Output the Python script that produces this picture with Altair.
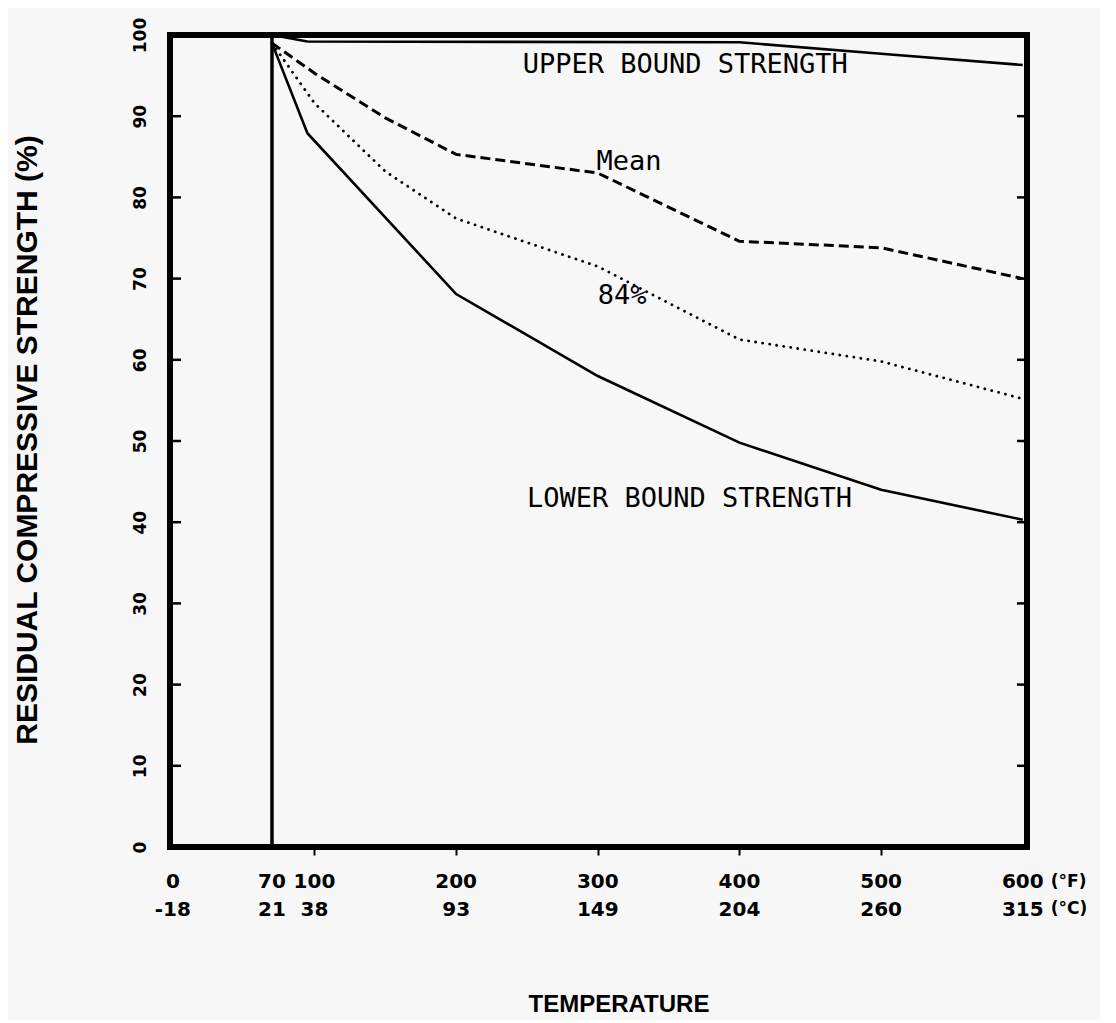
import altair as alt
import pandas as pd

# ---- data ----
upper_t = [70, 95, 400, 500, 600]
upper_v = [100, 99.2, 99.1, 97.7, 96.3]

mean_t = [70, 100, 150, 200, 300, 400, 500, 600]
mean_v = [99, 95.3, 89.8, 85.3, 83.0, 74.6, 73.8, 70.0]

p84_t = [70, 100, 150, 200, 300, 400, 500, 600]
p84_v = [99, 91.6, 83.2, 77.4, 71.5, 62.5, 59.8, 55.2]

lower_t = [70, 95, 200, 300, 400, 500, 600]
lower_v = [99, 87.9, 68.1, 58.0, 49.8, 44.0, 40.3]

room_temp_f = [70]

x_ticks_f = [0, 70, 100, 200, 300, 400, 500, 600]
x_labels_f = ["0", "70", "100", "200", "300", "400", "500", "600"]
x_labels_c = ["-18", "21", "38", "93", "149", "204", "260", "315"]
unit_labels = ["(°F)", "(°C)"]
y_ticks = [0, 10, 20, 30, 40, 50, 60, 70, 80, 90, 100]
inner_ticks = [10, 20, 30, 40, 50, 60, 70, 80, 90]
bottom_ticks = [100, 200, 300, 400, 500]

ann_text = ["UPPER BOUND STRENGTH", "Mean", "84%", "LOWER BOUND STRENGTH"]
ann_x = [247, 299, 300, 250]
ann_y = [96.3, 84.4, 67.9, 42.9]

W, H = 857, 812
xs = alt.Scale(domain=[-2, 603], nice=False, zero=False)
ys = alt.Scale(domain=[0, 100], nice=False, zero=False)

LABEL_FONT = "DejaVu Sans"
PLOT_FONT = "DejaVu Sans Mono"

XAX = alt.Axis(values=bottom_ticks, labels=False, domain=False, grid=False,
               tickSize=8, tickWidth=2, tickColor="black", title=None)
YAX = alt.Axis(values=y_ticks, ticks=False, tickSize=0, domain=False, grid=False,
               labelAngle=270, labelAlign="center", labelBaseline="middle",
               labelPadding=30, labelFont=LABEL_FONT, labelFontWeight="bold",
               labelFontSize=17, labelColor="black", title=None)

def X(f):
    return alt.X(f, scale=xs, axis=XAX)

def Y(f):
    return alt.Y(f, scale=ys, axis=YAX)

def series(t, v):
    return pd.DataFrame({"t": t, "v": v})

upper_line = alt.Chart(series(upper_t, upper_v)).mark_line(
    color="black", strokeWidth=2.6).encode(x=X("t:Q"), y=Y("v:Q"))
lower_line = alt.Chart(series(lower_t, lower_v)).mark_line(
    color="black", strokeWidth=2.6).encode(x=X("t:Q"), y=Y("v:Q"))
mean_line = alt.Chart(series(mean_t, mean_v)).mark_line(
    color="black", strokeWidth=3, strokeDash=[10, 5]).encode(x=X("t:Q"), y=Y("v:Q"))
p84_line = alt.Chart(series(p84_t, p84_v)).mark_line(
    color="black", strokeWidth=2.8, strokeDash=[0.1, 7], strokeCap="round"
).encode(x=X("t:Q"), y=Y("v:Q"))

vline = alt.Chart(pd.DataFrame({"t": room_temp_f, "y0": [0], "y1": [100]})).mark_rule(
    color="black", strokeWidth=3.5).encode(x=X("t:Q"), y=Y("y0:Q"), y2="y1:Q")

tick_df = pd.DataFrame({"v": inner_ticks})
left_ticks = alt.Chart(tick_df).mark_rule(color="black", strokeWidth=2.5).encode(
    y=Y("v:Q"), x=alt.value(0), x2=alt.value(11))
right_ticks = alt.Chart(tick_df).mark_rule(color="black", strokeWidth=2.5).encode(
    y=Y("v:Q"), x=alt.value(W - 10), x2=alt.value(W))

lab_df = pd.DataFrame({"f": x_ticks_f, "lf": x_labels_f, "lc": x_labels_c})
row_f = alt.Chart(lab_df).mark_text(
    font=LABEL_FONT, fontWeight="bold", fontSize=20, color="black", baseline="middle"
).encode(x=X("f:Q"), y=alt.value(H + 35), text="lf:N")
row_c = alt.Chart(lab_df).mark_text(
    font=LABEL_FONT, fontWeight="bold", fontSize=20, color="black", baseline="middle"
).encode(x=X("f:Q"), y=alt.value(H + 63), text="lc:N")

unit_f = alt.Chart(pd.DataFrame({"f": [600], "u": [unit_labels[0]]})).mark_text(
    font=LABEL_FONT, fontWeight="bold", fontSize=17, color="black",
    baseline="middle", align="left", dx=28
).encode(x=X("f:Q"), y=alt.value(H + 35), text="u:N")
unit_c = alt.Chart(pd.DataFrame({"f": [600], "u": [unit_labels[1]]})).mark_text(
    font=LABEL_FONT, fontWeight="bold", fontSize=17, color="black",
    baseline="middle", align="left", dx=28
).encode(x=X("f:Q"), y=alt.value(H + 62), text="u:N")

ann_df = pd.DataFrame({"x": ann_x, "y": ann_y, "t": ann_text})
ann = alt.Chart(ann_df).mark_text(
    font=PLOT_FONT, fontSize=27, color="black", align="left", baseline="middle"
).encode(x=X("x:Q"), y=Y("y:Q"), text="t:N")

xtitle = alt.Chart(pd.DataFrame({"t": ["TEMPERATURE"]})).mark_text(
    font="Liberation Sans", fontWeight="bold", fontSize=24, color="black", baseline="middle"
).encode(x=alt.value(449), y=alt.value(970), text="t:N")

ytitle = alt.Chart(pd.DataFrame({"t": ["RESIDUAL COMPRESSIVE STRENGTH (%)"]})).mark_text(
    font="Liberation Sans", fontWeight="bold", fontSize=30, color="black",
    baseline="middle", angle=270
).encode(x=alt.value(-142), y=alt.value(405), text="t:N")

chart = alt.layer(
    upper_line, vline, lower_line, mean_line, p84_line,
    left_ticks, right_ticks, row_f, row_c, unit_f, unit_c, ann, xtitle, ytitle
).properties(
    width=W, height=H,
    background="#f7f7f7",
    padding={"left": 162, "top": 27, "right": 73, "bottom": 173},
    autosize=alt.AutoSizeParams(type="none"),
).configure_view(stroke="black", strokeWidth=6)

chart.save("out.html", embed_options={"renderer": "svg", "actions": False})
